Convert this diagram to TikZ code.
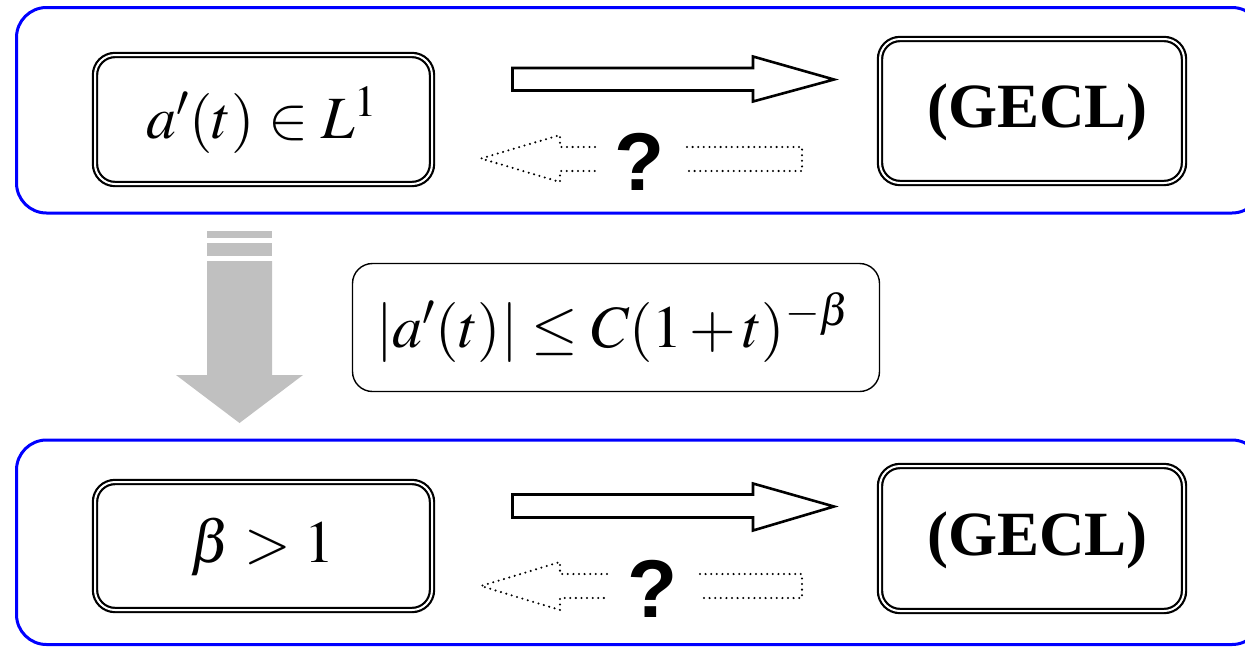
\documentclass[tikz,border=0pt]{standalone}
\usepackage{mathptmx}
\usepackage[no-math]{fontspec}
\setmainfont{Liberation Serif}
\newfontfamily\qfont{Liberation Sans}
\definecolor{panelblue}{RGB}{0,0,255}
\definecolor{arrowgray}{RGB}{192,192,192}
\tikzset{
  panel/.style={draw=panelblue, line width=3pt, rounded corners=30pt, inner sep=0pt},
  dbox/.style={draw=black, double=white, double distance=2pt, line width=2.2pt,
               rounded corners=20pt, inner sep=0pt},
  sbox/.style={draw=black, line width=1.4pt, rounded corners=20pt, inner sep=0pt},
  mathtxt/.style={font=\fontsize{60}{72}\selectfont, inner sep=0pt, anchor=base},
  gecl/.style={font=\fontsize{63}{75}\selectfont\bfseries, inner sep=0pt, anchor=base},
  qmark/.style={font=\fontsize{82}{96}\selectfont\qfont\bfseries, inner sep=0pt, anchor=base},
  fatarrow/.style={draw=black, fill=white, line width=2.6pt, line join=miter},
  dotarrow/.style={draw=black, line width=2.3pt, dash pattern=on 0pt off 5.6pt, line cap=round, line join=round},
  grayarrow/.style={fill=arrowgray, draw=none}
}
\begin{document}
\begin{tikzpicture}[x=1pt,y=-1pt]
\useasboundingbox (0,0) rectangle (1245,646);
\clip (0,0) rectangle (1245,646);

% panels
\node[panel, minimum width=1245.5pt, minimum height=205.5pt] (toppanel) at (639.25,110.25) {};
\node[panel, minimum width=1245.5pt, minimum height=204.5pt] (botpanel) at (639.25,542.25) {};

% top row boxes
\node[dbox, minimum width=337pt, minimum height=129pt] (tl) at (263.5,119.5) {};
\node[mathtxt] (tltext) at (262,138) {$a'(t)\in L^1$};
\node[dbox, minimum width=304pt, minimum height=144pt] (tr) at (1032,111) {};
\node[gecl] (trtext) at (1037.5,127) {(GECL)};

% bottom row boxes
\node[dbox, minimum width=337pt, minimum height=128pt] (bl) at (263.5,546) {};
\node[mathtxt] (bltext) at (262.5,562) {$\beta>1$};
\node[dbox, minimum width=304pt, minimum height=145pt] (br) at (1032,538.5) {};
\node[gecl] (brtext) at (1037.5,555) {(GECL)};

% middle box
\node[sbox, minimum width=527pt, minimum height=128pt] (mid) at (616,327.5) {};
\node[mathtxt] (midtext) at (613,347) {\medmuskip=2mu $|a'(t)|\leq C(1+t)^{-\beta}$};

% top arrows
\draw[fatarrow] (512.5,68) -- (753,68) -- (753,56.5) -- (834,79.5) -- (753,101.5) -- (753,90.5) -- (512.5,90.5) -- cycle;
\draw[dotarrow] (595,147) -- (560,147) -- (560,135) -- (481,158.5) -- (560,182) -- (560,171) -- (595,171);
\draw[dotarrow] (687,147) -- (802,147) -- (802,171) -- (687,171);
\node[qmark] (q1) at (640,190) {?};

% bottom arrows
\draw[fatarrow] (512.5,494.5) -- (753,494.5) -- (753,483.5) -- (834,506.5) -- (753,530.5) -- (753,517.5) -- (512.5,517.5) -- cycle;
\draw[dotarrow] (607,574) -- (560,574) -- (560,562) -- (481,586) -- (560,610) -- (560,598) -- (607,598);
\draw[dotarrow] (700,574) -- (802,574) -- (802,598) -- (700,598);
\node[qmark] (q2) at (653,617) {?};

% gray down arrow
\fill[grayarrow] (207,231) rectangle (272,238);
\fill[grayarrow] (207,243) rectangle (272,256);
\fill[grayarrow] (207,261) -- (272,261) -- (272,375) -- (303,375) -- (239.5,423) -- (176,375) -- (207,375) -- cycle;
\end{tikzpicture}
\end{document}
